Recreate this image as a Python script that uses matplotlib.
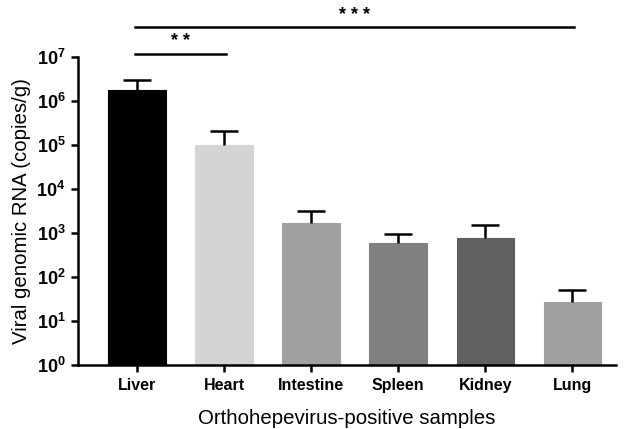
import matplotlib
matplotlib.use("Agg")
import matplotlib.pyplot as plt
import numpy as np

categories = ["Liver", "Heart", "Intestine", "Spleen", "Kidney", "Lung"]
means = [1.78e6, 1.0e5, 1.7e3, 590, 780, 27]
upper_err = [3.0e6, 2.1e5, 3.2e3, 940, 1.5e3, 50]  # top of error bar
colors = ["#000000", "#d4d4d4", "#a0a0a0", "#808080", "#606060", "#a0a0a0"]

plt.rcParams['font.family'] = ['Liberation Sans', 'DejaVu Sans']
plt.rcParams['mathtext.fontset'] = 'custom'
plt.rcParams['mathtext.rm'] = 'Liberation Sans'
plt.rcParams['mathtext.bf'] = 'Liberation Sans:bold'

fig = plt.figure(figsize=(6.26, 4.29), dpi=100)
ax = fig.add_axes([0.1246, 0.149, 0.859, 0.718])

x = np.arange(len(categories))
ax.bar(x, means, width=0.66, color=colors, edgecolor=colors, linewidth=0.8, zorder=2)
# upper-only error bars
ax.vlines(x, means, upper_err, color='black', lw=1.8, zorder=3)
ax.hlines(upper_err, x - 0.16, x + 0.16, color='black', lw=1.8, zorder=3)

ax.set_yscale('log')
ax.set_ylim(1, 1e7)
ax.set_xlim(-0.68, 5.5)
ax.set_yticks([10**k for k in range(8)])
ax.set_yticklabels([f"$\\mathbf{{10^{k}}}$" for k in range(8)])
ax.yaxis.set_minor_locator(matplotlib.ticker.NullLocator())
ax.set_xticks(x)
ax.set_xticklabels(categories, fontweight='bold', fontsize=11.5)
for lab in ax.get_yticklabels():
    lab.set_fontsize(13)
ax.tick_params(axis='both', direction='out', length=5, width=1.8, pad=4)

for s in ['top', 'right']:
    ax.spines[s].set_visible(False)
for s in ['left', 'bottom']:
    ax.spines[s].set_linewidth(1.8)

ax.set_ylabel("Viral genomic RNA (copies/g)", fontsize=14.7, labelpad=4)
ax.set_xlabel("Orthohepevirus-positive samples", fontsize=14.7, labelpad=12)

# significance bars
y1 = 10**7.07
ax.plot([-0.02, 1.02], [y1, y1], color='black', lw=1.8, clip_on=False)
ax.text(0.5, 10**7.15, "* *", ha='center', va='bottom', fontsize=13, fontweight='bold')
y2 = 10**7.68
ax.plot([-0.02, 5.02], [y2, y2], color='black', lw=1.8, clip_on=False)
ax.text(2.5, 10**7.76, "* * *", ha='center', va='bottom', fontsize=13, fontweight='bold')

fig.savefig("out.png", dpi=100)
